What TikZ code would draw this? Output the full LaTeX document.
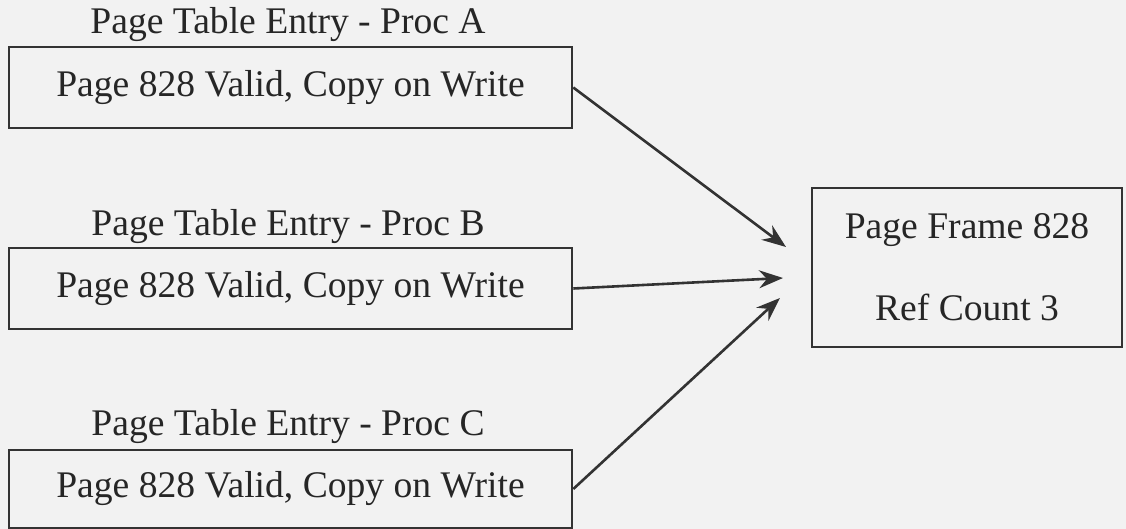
\documentclass[tikz,border=0pt]{standalone}
\usepackage{fontspec}
\setmainfont{Liberation Serif}
\usetikzlibrary{arrows.meta}
\begin{document}
\begin{tikzpicture}[x=0.5pt,y=-0.5pt,
  ink/.style={draw=black!80, line width=1.3pt},
  txt/.style={font=\fontsize{18.8}{22.5}\selectfont, text=black!85},
  pte/.style={ink, txt, minimum width=281.5pt, minimum height=40.5pt, inner sep=0pt},
  frame/.style={ink, txt, minimum width=155pt, minimum height=79.5pt, inner sep=0pt, align=center},
  lbl/.style={txt, inner sep=0pt},
  arr/.style={ink, -{Stealth[length=12pt,width=9pt,inset=4pt]}}]
\fill[black!5] (0,0) rectangle (1126,529);
\useasboundingbox (0,0) rectangle (1126,529);

\node[lbl] (la) at (288,25) {Page Table Entry - Proc A};
\node[pte] (a) at (290.5,87.5) {Page 828 Valid, Copy on Write};

\node[lbl] (lb) at (288,227) {Page Table Entry - Proc B};
\node[pte] (b) at (290.5,288.5) {Page 828 Valid, Copy on Write};

\node[lbl] (lc) at (288,427) {Page Table Entry - Proc C};
\node[pte, minimum height=39pt] (c) at (290.5,489) {Page 828 Valid, Copy on Write};

\node[frame] (f) at (967,267.5) {Page Frame 828\\[18.5pt]Ref Count 3};

\coordinate (ea) at (786,247);
\coordinate (eb) at (783,278);
\coordinate (ec) at (780,298);

\draw[arr] (a.east) -- (ea);
\draw[arr] (b.east) -- (eb);
\draw[arr] (c.east) -- (ec);
\end{tikzpicture}
\end{document}
